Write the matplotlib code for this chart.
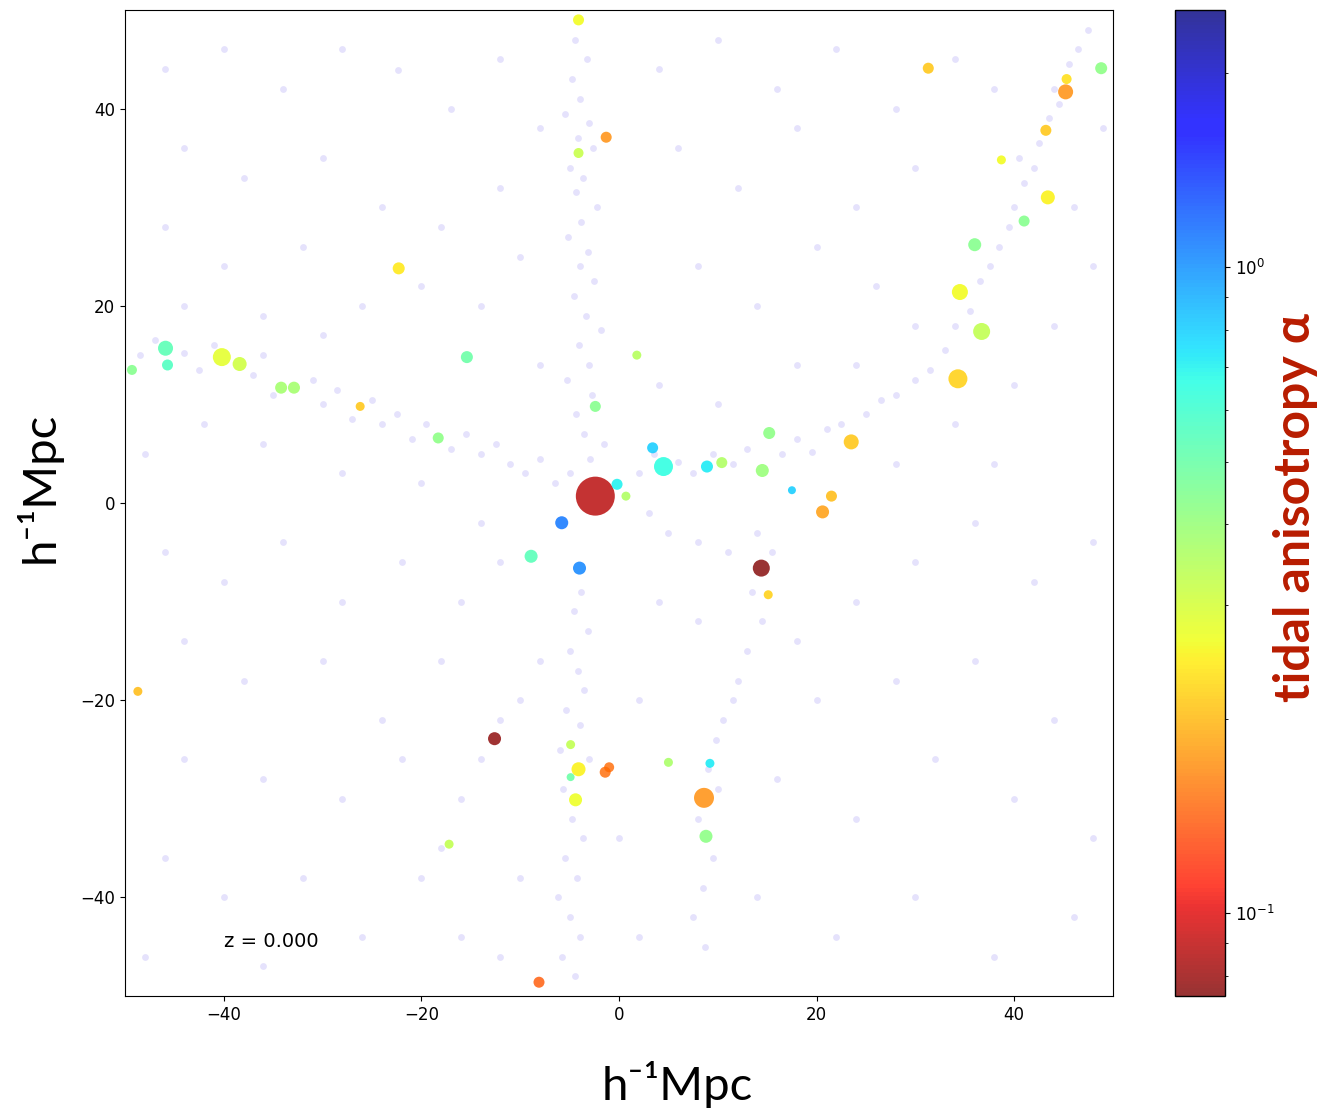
import numpy as np
import matplotlib
matplotlib.use("Agg")
import matplotlib.pyplot as plt
from matplotlib.colors import LogNorm

# halo catalogue: position (h^-1 Mpc), tidal anisotropy, marker area (mass proxy)
halo_x = [-22.3, -4.1, -1.3, -4.1, 31.3, 48.8, 45.3, 45.2, 43.2, 38.7,
          43.4, 41.0, 36.0, 34.5, 36.7, -45.9, -45.7, -49.3, -40.2, -38.4,
          -34.2, -32.9, -26.2, -18.3, -15.4, 1.8, -2.4, 3.4, 4.5, 8.9,
          10.4, 15.2, 14.5, -2.4, -0.2, 0.7, -5.8, -8.9, -4.0, 14.4,
          15.1, 17.5, 21.5, 20.6, 23.5, 34.3, -48.7, -12.6, -17.2, -8.1,
          -4.9, -4.1, -4.9, -4.4, -1.4, -1.0, 5.0, 9.2, 8.6, 8.8]
halo_y = [23.8, 49.0, 37.1, 35.5, 44.1, 44.1, 43.0, 41.7, 37.8, 34.8,
          31.0, 28.6, 26.2, 21.4, 17.4, 15.7, 14.0, 13.5, 14.8, 14.1,
          11.7, 11.7, 9.8, 6.6, 14.8, 15.0, 9.8, 5.6, 3.7, 3.7,
          4.1, 7.1, 3.3, 0.7, 1.9, 0.7, -2.0, -5.4, -6.6, -6.6,
          -9.3, 1.3, 0.7, -0.9, 6.2, 12.6, -19.1, -23.9, -34.6, -48.6,
          -24.5, -27.0, -27.8, -30.1, -27.3, -26.8, -26.3, -26.4, -29.9, -33.8]
halo_alpha = [0.24, 0.26, 0.17, 0.32, 0.21, 0.42, 0.23, 0.17, 0.21, 0.26,
              0.25, 0.44, 0.44, 0.26, 0.33, 0.53, 0.56, 0.44, 0.28, 0.31,
              0.38, 0.38, 0.21, 0.42, 0.50, 0.35, 0.44, 0.80, 0.66, 0.72,
              0.36, 0.42, 0.40, 0.088, 0.70, 0.36, 1.10, 0.54, 1.05, 0.075,
              0.22, 0.80, 0.20, 0.18, 0.21, 0.22, 0.20, 0.077, 0.33, 0.14,
              0.33, 0.25, 0.50, 0.27, 0.15, 0.15, 0.37, 0.72, 0.17, 0.42]
halo_size = [75, 63, 63, 52, 63, 75, 52, 117, 63, 42,
             102, 63, 88, 133, 150, 117, 63, 52, 168, 102,
             75, 75, 42, 63, 75, 42, 63, 63, 187, 75,
             63, 75, 88, 788, 63, 42, 88, 88, 88, 150,
             42, 33, 63, 88, 117, 187, 42, 88, 42, 63,
             42, 102, 33, 88, 63, 52, 42, 42, 207, 88]

# dark matter particles in the slab
bg_x = [-4.5, -3.2, -4.8, -3.9, -5.5, -3.0, -4.2, -2.6, -5.0, -3.6,
        -4.4, -2.2, -3.8, -5.2, -3.1, -4.0, -2.5, -4.6, -3.3, -1.8,
        -4.1, -3.0, -5.3, -2.7, -4.4, -3.5, -1.5, -2.9,
        -3.8, -4.6, -3.1, -5.0, -4.2, -3.5, -5.4, -4.0, -6.0, -3.0,
        -5.7, -4.8, -3.6, -5.5, -4.3, -6.2, -5.0, -3.9, -5.8, -4.5,
        -48.5, -47.0, -44.0, -42.5, -41.0, -37.0, -36.0, -35.0, -31.0, -30.0,
        -28.5, -27.0, -25.0, -24.0, -22.5, -21.0, -19.5, -17.0, -15.5, -14.0,
        -12.5, -11.0, -9.5, -8.0, -6.5, -5.0,
        2.0, 3.5, 6.0, 7.5, 9.5, 11.5, 13.0, 16.5, 18.0, 19.5,
        21.0, 22.5, 25.0, 26.5, 28.0, 30.0, 31.5, 33.0, 34.0, 35.5,
        36.5, 37.5, 38.5, 39.5, 40.0, 41.0, 42.0, 42.5, 43.5, 44.5,
        45.5, 46.5, 47.5, 44.0, 40.5,
        14.0, 15.5, 13.5, 14.5, 13.0, 12.0, 11.5, 10.5, 9.8, 9.0,
        10.0, 8.0, 9.5, 8.5, 7.5, 8.7,
        -12.0, -14.0, -10.0, -16.0, -18.0, -8.0, -20.0,
        5.0, 8.0, 11.0, 3.0,
        -46, -40, -34, -28, -22.4, -17, -12, -44, -38, -30,
        -24, -18, -12, -8, -46, -40, -32, -26, -20, -14,
        -10, -44, -36, -30, -8, -48, -42, -36, -28, -20, -14,
        4, 10, 16, 22, 28, 34, 38, 6, 12, 18,
        24, 30, 8, 14, 20, 26, 30, 4, 10, 18,
        24, 28, 34, 40, 44, 48, 46, 49, 38,
        -46, -40, -34, -28, -22, -16, -12, -44, -38, -30,
        -24, -18, -44, -36, -28, -22, -46, -40, -32, -26,
        -16, -10, -12, -36, -48,
        4, 8, 18, 24, 30, 36, 42, 48, 20, 28,
        36, 44, 16, 24, 32, 40, 48, 14, 22, 30,
        38, 46, 2, 0, 2]
bg_y = [47.0, 45.0, 43.0, 41.0, 39.5, 38.5, 37.0, 36.0, 34.0, 33.0,
        31.5, 30.0, 28.5, 27.0, 25.5, 24.0, 22.5, 21.0, 19.0, 17.5,
        16.0, 14.0, 12.5, 11.0, 9.0, 7.0, 6.0, 4.5,
        -9.0, -11.0, -13.0, -15.0, -17.0, -19.0, -21.0, -22.5, -25.0, -26.0,
        -29.0, -32.0, -34.0, -36.0, -38.0, -40.0, -42.0, -44.0, -46.0, -48.0,
        15.0, 16.5, 15.2, 13.5, 16.0, 13.0, 15.0, 11.0, 12.5, 10.0,
        11.5, 8.5, 10.5, 8.0, 9.0, 6.5, 8.0, 5.5, 7.0, 5.0,
        6.0, 4.0, 3.0, 4.5, 2.0, 3.0,
        3.0, 5.0, 4.2, 3.0, 5.0, 4.0, 5.5, 5.0, 6.5, 5.2,
        7.5, 8.0, 9.0, 10.5, 11.0, 12.5, 13.5, 15.5, 18.0, 19.5,
        22.5, 24.0, 26.0, 28.0, 30.0, 32.5, 34.0, 36.5, 39.0, 40.5,
        44.5, 46.0, 48.0, 42.0, 35.0,
        -3.0, -5.0, -9.0, -12.0, -15.0, -18.0, -20.0, -22.0, -24.0, -27.0,
        -29.0, -32.0, -36.0, -39.0, -42.0, -45.0,
        -22.0, -26.0, -20.0, -30.0, -35.0, -16.0, -38.0,
        -3.0, -4.0, -5.0, -1.0,
        44, 46, 42, 46, 43.9, 40, 45, 36, 33, 35,
        30, 28, 32, 38, 28, 24, 26, 20, 22, 20,
        25, 20, 19, 17, 14, 5, 8, 6, 3, 2, -2,
        44, 47, 42, 46, 40, 45, 42, 36, 32, 38,
        30, 34, 24, 20, 26, 22, 18, 12, 10, 14,
        14, 4, 8, 12, 18, 24, 30, 38, 4,
        -5, -8, -4, -10, -6, -10, -6, -14, -18, -16,
        -22, -16, -26, -28, -30, -26, -36, -40, -38, -44,
        -44, -38, -46, -47, -46,
        -10, -12, -14, -10, -6, -2, -8, -4, -20, -18,
        -16, -22, -28, -32, -26, -30, -34, -40, -44, -40,
        -46, -42, -20, -34, -44]

redshift = 0.000
box_half = 50
alpha_min, alpha_max = 0.0744, 2.5

label_font = ["Lato", "DejaVu Sans"]

fig = plt.figure(figsize=(13.23, 11.15), dpi=100)
ax = fig.add_axes([0.0945, 0.1067, 0.7468, 0.8843])
cax = fig.add_axes([0.888, 0.1067, 0.0378, 0.8843])

ax.scatter(bg_x, bg_y, s=24, color="#7d6ef0", alpha=0.2, linewidths=0)

sc = ax.scatter(halo_x, halo_y, c=halo_alpha, s=halo_size, cmap="jet_r",
                norm=LogNorm(vmin=alpha_min, vmax=alpha_max),
                alpha=0.8, edgecolors="none", zorder=3)

ax.set_xlim(-box_half, box_half)
ax.set_ylim(-box_half, box_half)
ax.tick_params(labelsize=12)
ax.text(-40, -44.5, f"z = {redshift:.3f}", fontsize=14, va="center")

cb = fig.colorbar(sc, cax=cax)
cb.ax.tick_params(labelsize=12)
cb.outline.set_linewidth(1.0)

fig.text(0.512, 0.027, "h\u207b\u00b9Mpc", family=label_font, fontsize=34,
         ha="center", va="center")
fig.text(0.029, 0.563, "h\u207b\u00b9Mpc", family=label_font, fontsize=34,
         ha="center", va="center", rotation=90)
fig.text(0.979, 0.545, "tidal anisotropy \u03b1", family=label_font,
         fontsize=36, fontweight="bold", color="#b81c00",
         ha="center", va="center", rotation=90)

fig.savefig("out.png", dpi=100)
